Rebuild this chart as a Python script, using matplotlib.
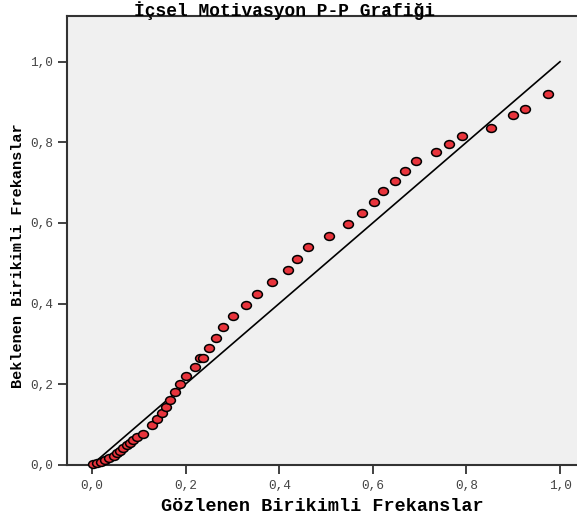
import matplotlib
matplotlib.use("Agg")
import matplotlib.pyplot as plt
from matplotlib.path import Path
import numpy as np

# Data: observed cumulative probability (x) vs expected cumulative probability (y)
observed = [0.0015, 0.010, 0.019, 0.028, 0.037, 0.046, 0.053, 0.060, 0.067, 0.074,
            0.081, 0.088, 0.096, 0.109, 0.128, 0.139, 0.150, 0.158, 0.167, 0.177,
            0.187, 0.201, 0.220, 0.231, 0.237, 0.249, 0.264, 0.279, 0.301, 0.328,
            0.352, 0.385, 0.419, 0.438, 0.462, 0.506, 0.547, 0.576, 0.602, 0.622,
            0.648, 0.669, 0.692, 0.734, 0.763, 0.790, 0.852, 0.899, 0.925, 0.974]
expected = [0.001, 0.0035, 0.0075, 0.012, 0.017, 0.022, 0.028, 0.035, 0.041, 0.048,
            0.055, 0.061, 0.068, 0.076, 0.099, 0.113, 0.128, 0.144, 0.161, 0.180,
            0.200, 0.220, 0.242, 0.265, 0.266, 0.289, 0.315, 0.342, 0.368, 0.397,
            0.424, 0.453, 0.482, 0.511, 0.539, 0.568, 0.597, 0.625, 0.652, 0.678,
            0.704, 0.729, 0.753, 0.775, 0.796, 0.816, 0.835, 0.868, 0.883, 0.920]
ref_line = [0.0, 1.0]
tick_vals = [0.0, 0.2, 0.4, 0.6, 0.8, 1.0]
tick_labels = ["0,0", "0,2", "0,4", "0,6", "0,8", "1,0"]

title = "İçsel Motivasyon P-P Grafiği"
xlabel = "Gözlenen Birikimli Frekanslar"
ylabel = "Beklenen Birikimli Frekanslar"

W, H = 577, 522
fig = plt.figure(figsize=(W / 100, H / 100), dpi=100)
fig.patch.set_facecolor("white")

left_px, right_px, top_px, bottom_px = 66.7, 577, 16, 464.7
ax = fig.add_axes([left_px / W, 1 - bottom_px / H,
                   (right_px - left_px) / W, (bottom_px - top_px) / H])
ax.set_facecolor("#F0F0F0")

x0_px, x_unit = 92.0, 468.0
y_unit = 403.0
ax.set_xlim((left_px - x0_px) / x_unit, (right_px - x0_px) / x_unit)
ax.set_ylim(0, (bottom_px - top_px) / y_unit)

ax.plot(ref_line, ref_line, color="black", lw=1.2, zorder=2)

# slightly elliptical marker
circ = Path.unit_circle()
ell = Path(circ.vertices * np.array([1.0, 0.8]), circ.codes)
ax.scatter(observed, expected, marker=ell, s=50, facecolor="#E8343C",
           edgecolor="black", linewidths=1.1, zorder=3, clip_on=False)

for side in ["left", "bottom", "top"]:
    ax.spines[side].set_color("#333333")
    ax.spines[side].set_linewidth(1.5)
ax.spines["right"].set_visible(False)

mono = "Liberation Mono"
ax.set_xticks(tick_vals)
ax.set_xticklabels(tick_labels, family=mono, fontsize=9.2, color="#444444")
ax.set_yticks(tick_vals)
ax.set_yticklabels(tick_labels, family=mono, fontsize=9.2, color="#444444")
ax.tick_params(axis="both", direction="out", length=6.2, width=1.3, color="#333333")
ax.tick_params(axis="x", pad=4.5)
ax.tick_params(axis="y", pad=3.5)

fig.text(284.5 / W, 1 - 1.0 / H, title, family=mono, weight="bold", fontsize=12.9,
         ha="center", va="top", zorder=10)
fig.text(322.5 / W, 1 - 506.7 / H, xlabel, family=mono, weight="bold", fontsize=13.3,
         ha="center", va="center")
fig.text(18.5 / W, 1 - 256 / H, ylabel, family=mono, weight="bold", fontsize=11,
         ha="center", va="center", rotation=90)

fig.savefig("out.png", dpi=100, facecolor="white")
